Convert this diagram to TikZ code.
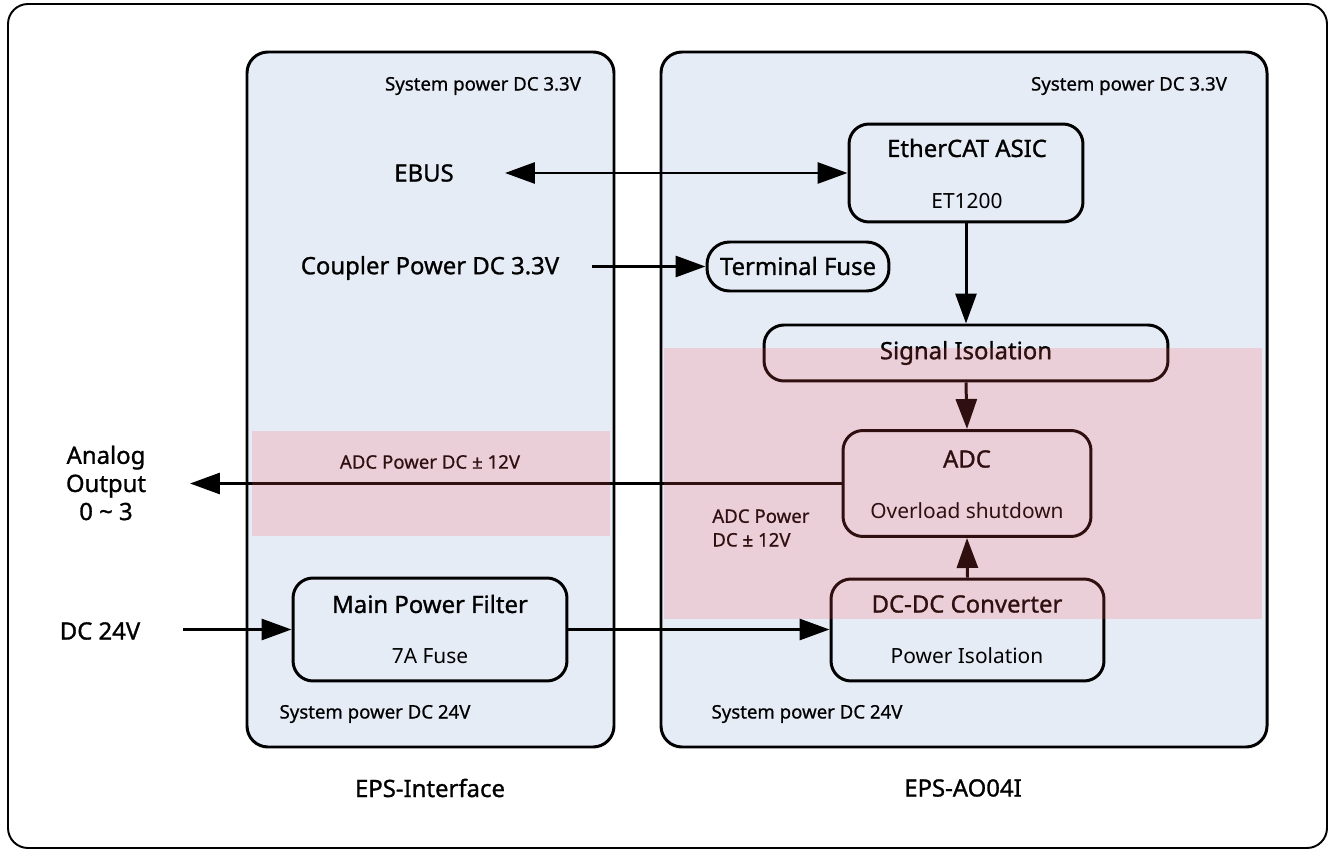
\documentclass[tikz,border=0pt]{standalone}
\usepackage{fontspec}
\setmainfont{Noto Sans}
\newfontfamily\semifont[FakeBold=1.1]{Noto Sans}
\newfontfamily\smallfont[FakeBold=0.7]{Noto Sans}
\usetikzlibrary{arrows.meta}
\definecolor{panelblue}{RGB}{230,236,246}
\definecolor{bandred}{RGB}{255,84,90}
\tikzset{
  panel/.style={draw=black, line width=1.7pt, fill=panelblue, rounded corners=0.42cm},
  blk/.style={draw=black, line width=1.7pt, rounded corners=0.4cm, inner sep=0pt},
  band/.style={fill=bandred, fill opacity=0.19, draw=none},
  conn/.style={line width=1.7pt, -{Triangle[length=0.6cm,width=0.42cm]}},
  biconn/.style={line width=1.7pt, {Triangle[length=0.6cm,width=0.42cm]}-{Triangle[length=0.6cm,width=0.42cm]}},
  big/.style={font=\semifont\fontsize{13.6}{16}\selectfont, inner sep=0pt},
  mid/.style={font=\fontsize{11.9}{14}\selectfont, inner sep=0pt},
  small/.style={font=\smallfont\fontsize{10.6}{12.5}\selectfont, inner sep=0pt},
}
\begin{document}
\begin{tikzpicture}[x=0.02cm,y=-0.02cm]
\useasboundingbox (0,0) rectangle (1330,851);
% outer frame
\draw[line width=1.1pt, rounded corners=0.4cm] (8,4) rectangle (1327,848);
% panels
\draw[panel] (247,52) rectangle (614,747);
\draw[panel] (661,52) rectangle (1267,747);
% panel captions
\node[big] (capL) at (430,788) {EPS-Interface};
\node[big] (capR) at (963,788) {EPS-AO04I};
\node[small] (sysL33) at (483,86) {System power DC 3.3V};
\node[small] (sysR33) at (1129,86) {System power DC 3.3V};
\node[small] (sysL24) at (375,714) {System power DC 24V};
\node[small] (sysR24) at (807,714) {System power DC 24V};
% boxes
\node[blk, minimum width=4.68cm, minimum height=1.96cm] (eth) at (966,173) {};
\node[big] (ethT) at (967,148) {EtherCAT ASIC};
\node[mid] (ethS) at (967,201) {ET1200};
\node[blk, rounded corners=0.45cm, minimum width=3.64cm, minimum height=0.98cm] (fuse) at (798,266.5) {};
\node[big] (fuseT) at (798,266) {Terminal Fuse};
\node[blk, minimum width=8.08cm, minimum height=1.12cm] (sig) at (966,353) {};
\node[big] (sigT) at (966,353) {Signal Isolation};
\node[blk, minimum width=4.96cm, minimum height=2.12cm] (adc) at (967,483.5) {};
\node[big] (adcT) at (967,459) {ADC};
\node[mid] (adcS) at (967,511) {Overload shutdown};
\node[blk, minimum width=5.46cm, minimum height=2.04cm] (dcdc) at (967.5,630) {};
\node[big] (dcdcT) at (967,604) {DC-DC Converter};
\node[mid] (dcdcS) at (967,656) {Power Isolation};
\node[blk, minimum width=5.48cm, minimum height=2.06cm] (mpf) at (430,629.5) {};
\node[big] (mpfT) at (430,604) {Main Power Filter};
\node[mid] (mpfS) at (430,656) {7A Fuse};
% outside labels
\node[big] (ebus) at (424,173) {EBUS};
\node[big] (coupler) at (430,268) {Coupler Power DC 3.3V};
\node[big, align=center, font=\semifont\fontsize{13.6}{16}\selectfont] (ao) at (106,483) {Analog\\Output\\0 \textasciitilde{} 3};
\node[big] (dc24) at (100,631) {DC 24V};
\node[small] (adcpwr) at (430,462) {ADC Power DC ± 12V};
\node[small, align=left, anchor=west, font=\smallfont\fontsize{10.6}{13.5}\selectfont] (adcpwr2) at (712,528) {ADC Power\\DC ± 12V};
% connector end points
\coordinate (ebusTip) at (505,173);
\coordinate (coupTail) at (592,266.5);
\coordinate (aoTip) at (190,483.5);
\coordinate (dcTail) at (183,629.5);
% connectors
\draw[biconn] (ebusTip) -- (eth.west);
\draw[conn] (coupTail) -- (fuse.west);
\draw[conn] (eth.south) -- (sig.north);
\draw[conn] (sig.south) -- (adc.north);
\draw[conn] (dcdc.north) -- (adc.south);
\draw[conn] (adc.west) -- (aoTip);
\draw[conn] (dcTail) -- (mpf.west);
\draw[conn] (mpf.east) -- (mpf.east -| dcdc.west);
% translucent bands on top
\fill[band] (252,431) rectangle (610,536);
\fill[band] (664,348) rectangle (1262,619);
\end{tikzpicture}
\end{document}
